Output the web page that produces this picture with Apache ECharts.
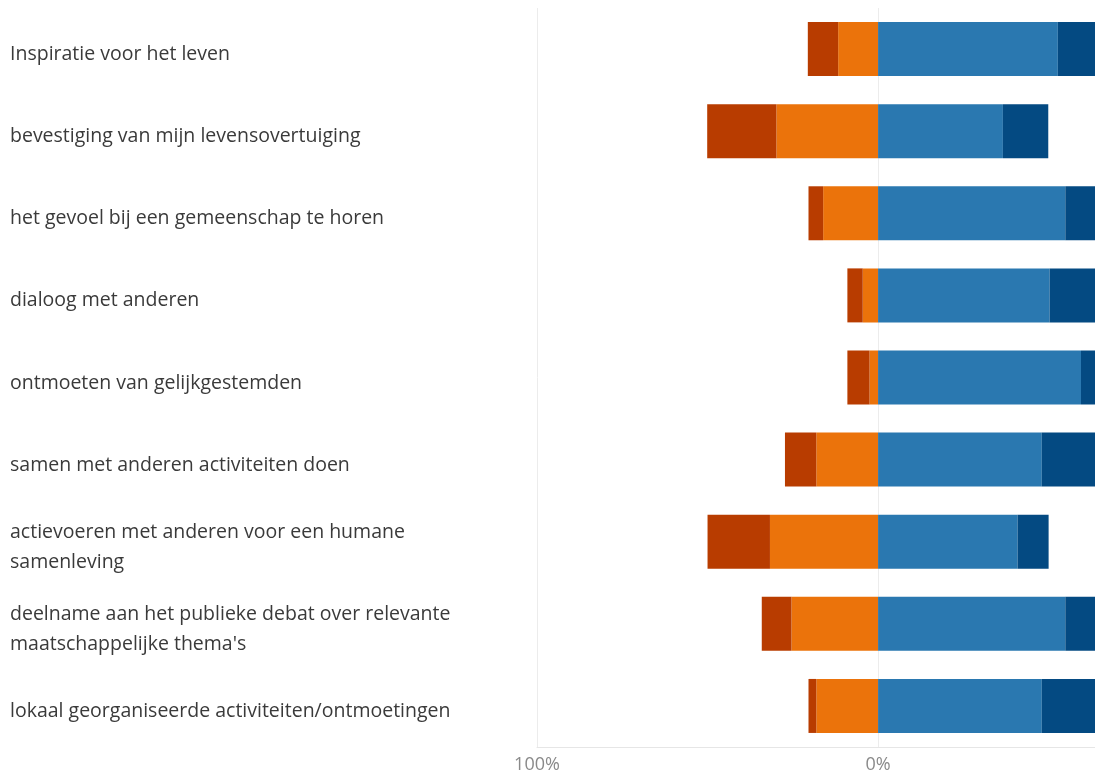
<!DOCTYPE html>
<html>
<head>
<meta charset="utf-8">
<script src="https://cdn.jsdelivr.net/npm/echarts@6/dist/echarts.min.js"></script>
<style>
html,body{margin:0;padding:0;background:#fff;overflow:hidden;}
#chart{width:1095px;height:774px;}
</style>
</head>
<body>
<div id="chart"></div>
<script>
const categories = [
  "Inspiratie voor het leven",
  "bevestiging van mijn levensovertuiging",
  "het gevoel bij een gemeenschap te horen",
  "dialoog met anderen",
  "ontmoeten van gelijkgestemden",
  "samen met anderen activiteiten doen",
  "actievoeren met anderen voor een humane\nsamenleving",
  "deelname aan het publieke debat over relevante\nmaatschappelijke thema's",
  "lokaal georganiseerde activiteiten/ontmoetingen"
];
// percentages (negative side shown as negative values)
const stronglyDisagree = [8.9, 20.3, 4.3, 4.5, 6.5, 9.2, 18.3, 8.7, 2.3];
const disagree         = [11.7, 29.8, 16.1, 4.5, 2.5, 18.1, 31.7, 25.4, 18.1];
const agree            = [52.7, 36.6, 54.9, 50.3, 59.5, 48.0, 40.9, 54.9, 48.0];
const stronglyAgree    = [26.7, 13.3, 24.7, 40.7, 31.5, 24.7, 9.1, 11.0, 31.6];
// axis runs from 100% on the left; the picture is cut off on the right at about 63.6%
const xMin = -100;
const xVisibleMax = 63.6;

const chart = echarts.init(document.getElementById('chart'), null, {renderer: 'canvas'});
const neg = arr => arr.map(v => -v);
const bar = (name, data, color) => ({
  name, type: 'bar', stack: 'total', data, barWidth: 54,
  itemStyle: {color}, emphasis: {disabled: true}
});
const labelFont = {color: '#3a3a3a', fontSize: 19.5, fontFamily: 'Open Sans', lineHeight: 30};
chart.setOption({
  animation: false,
  grid: {left: 537, right: 0, top: 8, bottom: 26, containLabel: false},
  xAxis: {
    type: 'value', min: xMin, max: xVisibleMax, interval: 100,
    axisLine: {show: true, lineStyle: {color: '#e6e6e6', width: 1}},
    axisTick: {show: false},
    splitLine: {show: true, showMaxLine: false, lineStyle: {color: '#ececec', width: 1}},
    axisLabel: {
      formatter: v => Math.abs(v) + '%', showMaxLabel: false,
      color: '#8a8a8a', fontSize: 18, fontFamily: 'Open Sans', margin: 9
    }
  },
  yAxis: {
    type: 'category', data: categories, inverse: true,
    axisLine: {show: false}, axisTick: {show: false}, splitLine: {show: false},
    axisLabel: Object.assign({
      align: 'left', margin: 527,
      formatter: v => '{s| }\n' + v.split('\n').map(l => '{t|' + l + '}').join('\n'),
      rich: {
        s: {fontSize: 1, lineHeight: 11},
        t: Object.assign({}, labelFont)
      }
    }, labelFont)
  },
  series: [
    bar('Oneens', neg(disagree), '#eb730b'),
    bar('Helemaal oneens', neg(stronglyDisagree), '#b83c00'),
    bar('Eens', agree, '#2a78b0'),
    bar('Helemaal eens', stronglyAgree, '#044a82')
  ]
});
</script>
</body>
</html>
